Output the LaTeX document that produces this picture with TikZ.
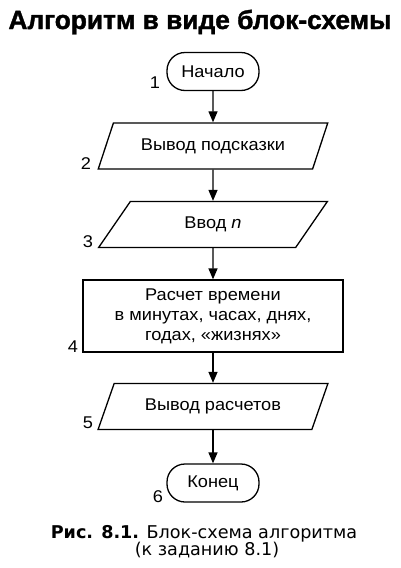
\documentclass[tikz,border=0pt]{standalone}
\usepackage{fontspec}
\setmainfont{Liberation Sans}
\newfontfamily\nodefont[FakeStretch=1.07]{Liberation Sans}
\newfontfamily\titlefont[FakeBold=1.5]{Liberation Sans Bold}
\newfontfamily\capfont{DejaVu Sans}
\usetikzlibrary{shapes.geometric,arrows.meta}
\begin{document}
\begin{tikzpicture}[x=1pt,y=-1pt,
  line width=1.3pt,
  txt/.style={font=\nodefont\fontsize{17}{20}\selectfont},
  term/.style={draw, txt, rounded corners=18pt, minimum width=92pt, minimum height=38pt, inner sep=0pt},
  io/.style={draw, txt, trapezium, trapezium left angle=54, trapezium right angle=126,
     trapezium stretches=true, minimum width=230pt, minimum height=46pt, inner sep=0pt},
  proc/.style={draw, txt, align=center, minimum width=260pt, minimum height=72pt, inner sep=0pt},
  num/.style={txt, inner sep=0pt},
  arr/.style={-{Triangle[length=11pt,width=9pt]}}
]
\useasboundingbox (0,0) rectangle (400,568);
\node[anchor=base, inner sep=0pt, font=\titlefont\fontsize{26.3}{30}\selectfont] (title) at (200,29) {Алгоритм в виде блок-схемы};

\node[term] (n1) at (213,71.5) {Начало};
\node[io]   (n2) at (213,146) {Вывод подсказки};
\node[io]   (n3) at (213,224.5) {Ввод {\itshape n}};
\node[proc] (n4) at (213,316) {Расчет времени\\в минутах, часах, днях,\\годах, «жизнях»};
\node[io]   (n5) at (213,406.5) {Вывод расчетов};
\node[term] (n6) at (213,483) {Конец};

\node[num] (l1) at (155,83) {1};
\node[num] (l2) at (86,164) {2};
\node[num] (l3) at (88,242) {3};
\node[num] (l4) at (73,347) {4};
\node[num] (l5) at (88,423) {5};
\node[num] (l6) at (158,497) {6};

\draw[arr] (n1.south) -- (n2.north);
\draw[arr] (n2.south) -- (n3.north);
\draw[arr] (n3.south) -- (n4.north);
\draw[arr] (n4.south) -- (n5.north);
\draw[arr] (n5.south) -- (n6.north);

\node[anchor=base, inner sep=0pt, font=\capfont\fontsize{17.6}{20}\selectfont] (cap1) at (204,538) {\textbf{Рис. 8.1.} Блок-схема алгоритма};
\node[anchor=base, inner sep=0pt, font=\capfont\fontsize{17.6}{20}\selectfont] (cap2) at (207,555) {(к заданию 8.1)};
\end{tikzpicture}
\end{document}
